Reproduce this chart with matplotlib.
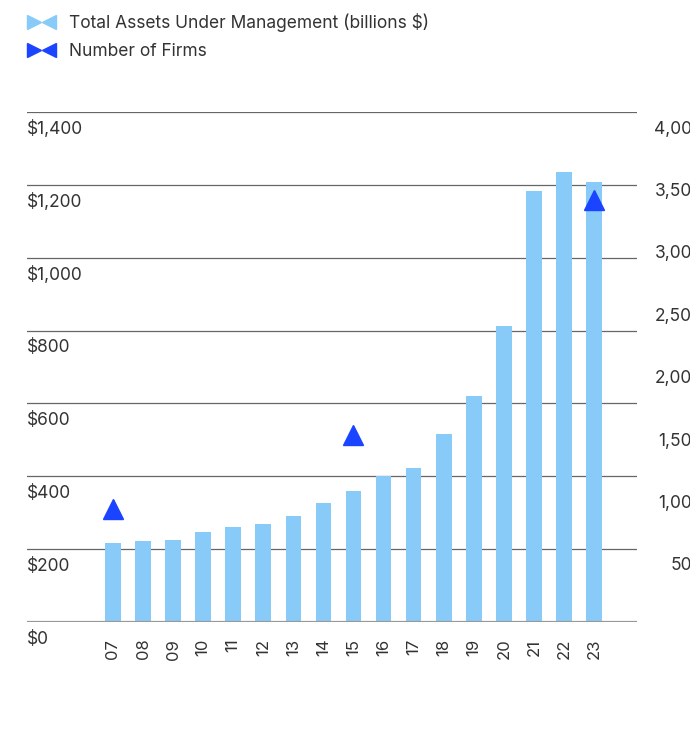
import matplotlib.pyplot as plt
import matplotlib.transforms as mtransforms
from matplotlib.lines import Line2D
from matplotlib.legend_handler import HandlerTuple

plt.rcParams['font.family'] = ['Inter', 'DejaVu Sans']

years = ['07', '08', '09', '10', '11', '12', '13', '14', '15', '16',
         '17', '18', '19', '20', '21', '22', '23']
assets = [216, 221, 224, 247, 261, 268, 290, 326, 359, 402,
          422, 516, 620, 813, 1183, 1236, 1207]
firm_years = ['07', '15', '23']
firms = [818, 1413, 3296]

left_ticks = [0, 200, 400, 600, 800, 1000, 1200, 1400]
left_labels = ['$0', '$200', '$400', '$600', '$800', '$1,000', '$1,200', '$1,400']
right_ticks = [500, 1000, 1500, 2000, 2500, 3000, 3500, 4000]
right_labels = ['500', '1,000', '1,500', '2,000', '2,500', '3,000', '3,500', '4,000']

bar_color = '#88CBF8'
tri_color = '#1A44FF'
text_color = '#333333'

fig = plt.figure(figsize=(6.9, 7.53), dpi=100)
ax = fig.add_axes([27 / 690, 131 / 753, 610 / 690, 510 / 753])

xpos = list(range(len(years)))
ax.bar(xpos, assets, width=0.52, color=bar_color, zorder=2)
ax.set_xlim(-2.86, 17.43)
ax.set_ylim(0, 1400)

for t in left_ticks[1:]:
    ax.axhline(t, color='#666666', lw=0.9, zorder=1)
ax.axhline(0, color='#999999', lw=1.6, zorder=3)

lab_tr = mtransforms.offset_copy(ax.get_yaxis_transform(), fig=fig, x=0, y=-17, units='dots')
for t, lab in zip(left_ticks, left_labels):
    ax.text(0, t, lab, transform=lab_tr, ha='left', va='center',
            fontsize=12.5, color=text_color)

ax.set_xticks(xpos)
ax.set_xticklabels(years, rotation=90, fontsize=12, color=text_color)
ax.tick_params(axis='x', length=0, pad=12)
ax.set_yticks([])
for s in ax.spines.values():
    s.set_visible(False)

ax2 = ax.twinx()
ax2.set_ylim(-85, 4000)
fx = [years.index(y) for y in firm_years]
ax2.plot(fx, firms, ls='', marker='^', markersize=15, color=tri_color, zorder=4)
ax2.set_yticks([])
for s in ax2.spines.values():
    s.set_visible(False)

rtr = mtransforms.offset_copy(ax2.get_yaxis_transform(), fig=fig, x=0, y=-17, units='dots')
for t, lab in zip(right_ticks, right_labels):
    ax2.text(676 / 610, t, lab, transform=rtr, ha='right', va='center',
             fontsize=12.5, color=text_color, clip_on=False)

h1 = (Line2D([], [], ls='', marker='>', markersize=10, color=bar_color),
      Line2D([], [], ls='', marker='<', markersize=10, color=bar_color))
h2 = (Line2D([], [], ls='', marker='>', markersize=10, color=tri_color),
      Line2D([], [], ls='', marker='<', markersize=10, color=tri_color))
fig.legend([h1, h2], ['Total Assets Under Management (billions $)', 'Number of Firms'],
           handler_map={tuple: HandlerTuple(ndivide=None, pad=-0.3)},
           loc='upper left', bbox_to_anchor=(17 / 690, 1 - 6 / 753), frameon=False,
           fontsize=12.5, labelcolor=text_color, handlelength=2.0, handletextpad=0.6,
           labelspacing=0.65, borderaxespad=0)

fig.savefig('out.png', dpi=100)
